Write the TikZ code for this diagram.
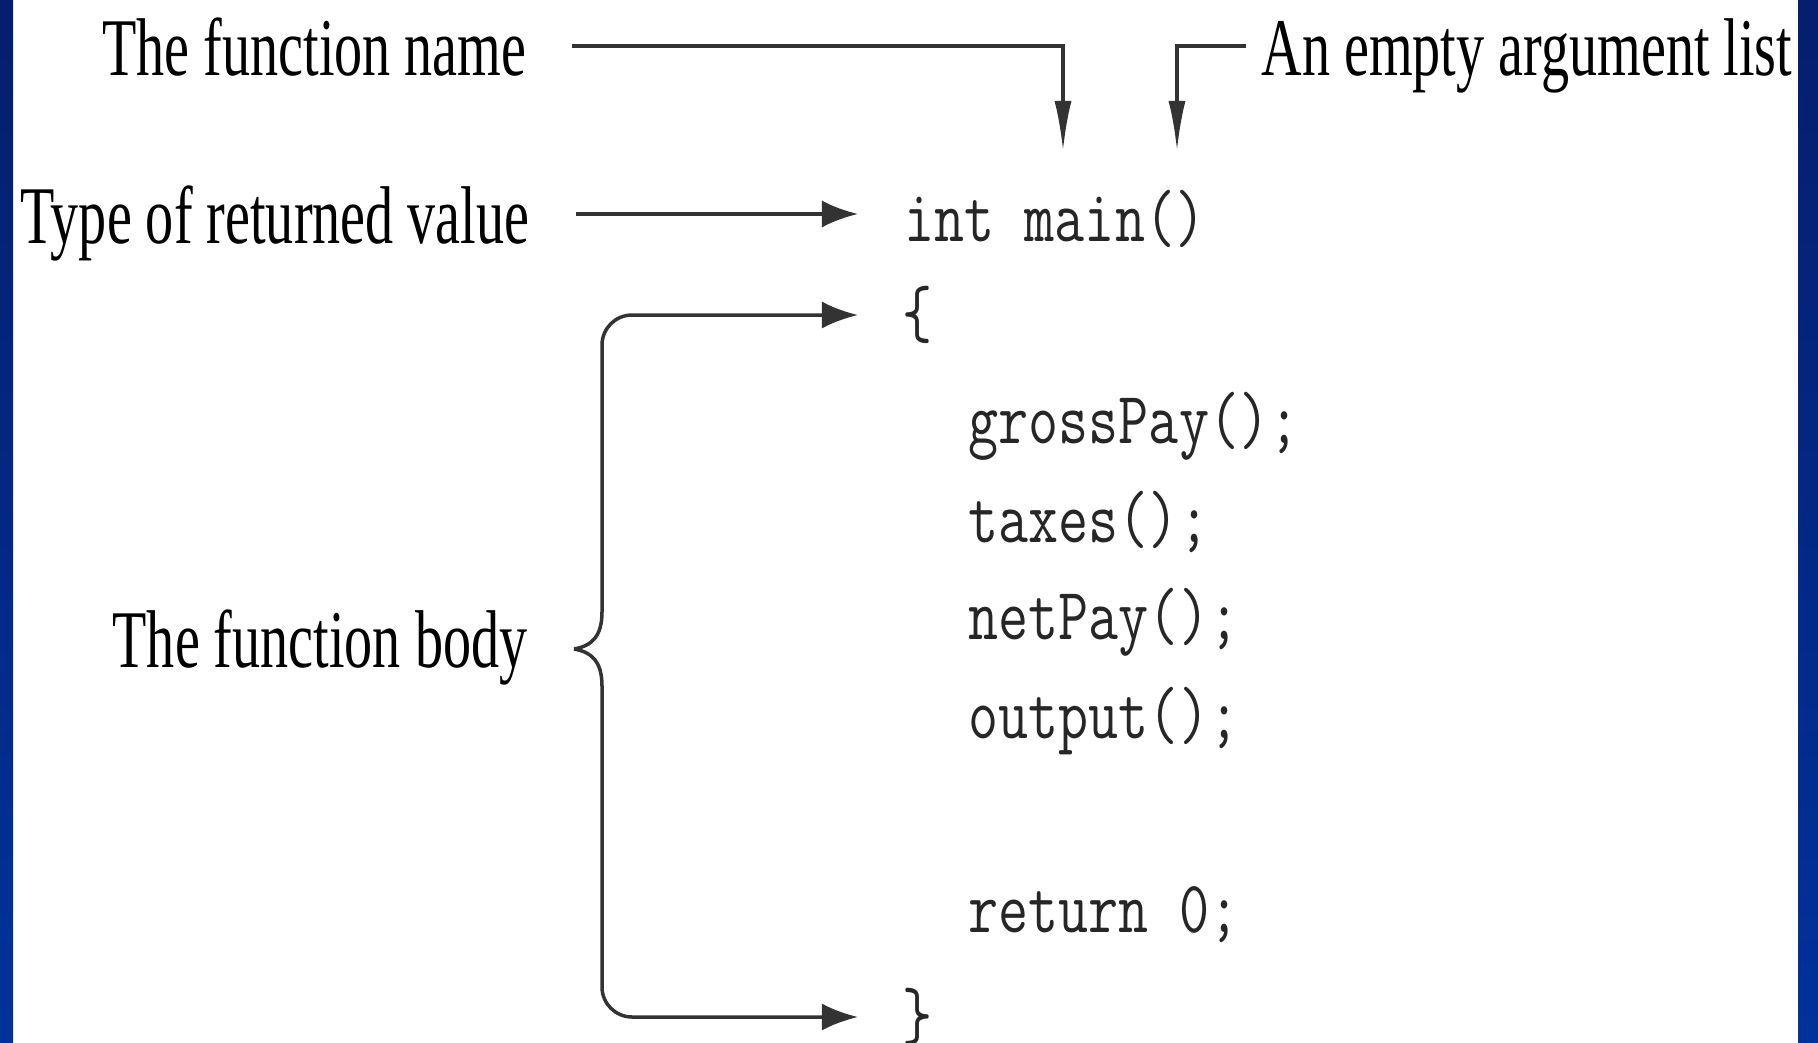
\documentclass[tikz,border=0pt]{standalone}
\usepackage{graphicx}
\usepackage{fontspec}
\setmainfont{Liberation Serif}
\usetikzlibrary{arrows.meta}

\definecolor{barblue}{RGB}{0,50,155}
\definecolor{bardark}{RGB}{5,30,110}
\newcommand{\lbltext}[1]{\scalebox{0.685}[1]{\fontsize{23.3}{28}\selectfont #1}}
\newcommand{\codetext}[1]{\scalebox{0.79}[1]{\fontsize{21}{25}\selectfont\ttfamily #1}}

\tikzset{
  lbl/.style={inner sep=0pt, text height=0.58cm, text depth=0cm},
  codeln/.style={inner sep=0pt, anchor=base west, text=black!85},
  link/.style={line width=0.035cm, draw=black!80},
  downtip/.style={-{Latex[length=0.5cm,width=0.17cm]}},
  sidetip/.style={-{Latex[length=0.36cm,width=0.27cm]}},
}

\begin{document}
\begin{tikzpicture}[x=0.01cm,y=-0.01cm]
 \useasboundingbox (0,0) rectangle (1818,1042);
 \shade[top color=bardark, bottom color=barblue] (0,0) rectangle (13,1042);
 \shade[top color=bardark, bottom color=barblue] (1798,0) rectangle (1818,1042);

 % labels
 \node[lbl, anchor=base east] (fname) at (527,75) {\lbltext{The function name}};
 \node[lbl, anchor=base west] (arglist) at (1261,75) {\lbltext{An empty argument list}};
 \node[lbl, anchor=base east] (rettype) at (530,243) {\lbltext{Type of returned value}};
 \node[lbl, anchor=base east] (fbody) at (528,667) {\lbltext{The function body}};

 % code
 \node[codeln] (main) at (904,241) {\codetext{int main()}};
 \node[codeln, anchor=west] (lbrace) at (902,315) {\codetext{\{}};
 \node[codeln] (gross) at (968,443) {\codetext{grossPay();}};
 \node[codeln] (taxes) at (968,542) {\codetext{taxes();}};
 \node[codeln] (netpay) at (968,639) {\codetext{netPay();}};
 \node[codeln] (output) at (968,738) {\codetext{output();}};
 \node[codeln] (ret) at (968,932) {\codetext{return 0;}};
 \node[codeln, anchor=west] (rbrace) at (902,1017) {\codetext{\}}};

 \coordinate (nametip) at (1063,151);
 \coordinate (argtip) at (1177,151);
 \coordinate (cusp) at (574,649);

 \draw[link, downtip] ([xshift=0.45cm]fname.east) -| (nametip);
 \draw[link, downtip] ([xshift=-0.15cm]arglist.west) -| (argtip);
 \draw[link, sidetip, shorten >=0.46cm] ([xshift=0.46cm]rettype.east) -- (rettype.east -| main.west);

 % the brace
 \draw[link, sidetip] (cusp) .. controls (592,646) and (602,636) .. (602,612)
   [rounded corners=0.3cm] -- (602,315) -- ([xshift=-0.44cm]lbrace.west);
 \draw[link, sidetip] (cusp) .. controls (592,652) and (602,662) .. (602,686)
   [rounded corners=0.3cm] -- (602,1017) -- ([xshift=-0.44cm]rbrace.west);
\end{tikzpicture}
\end{document}
